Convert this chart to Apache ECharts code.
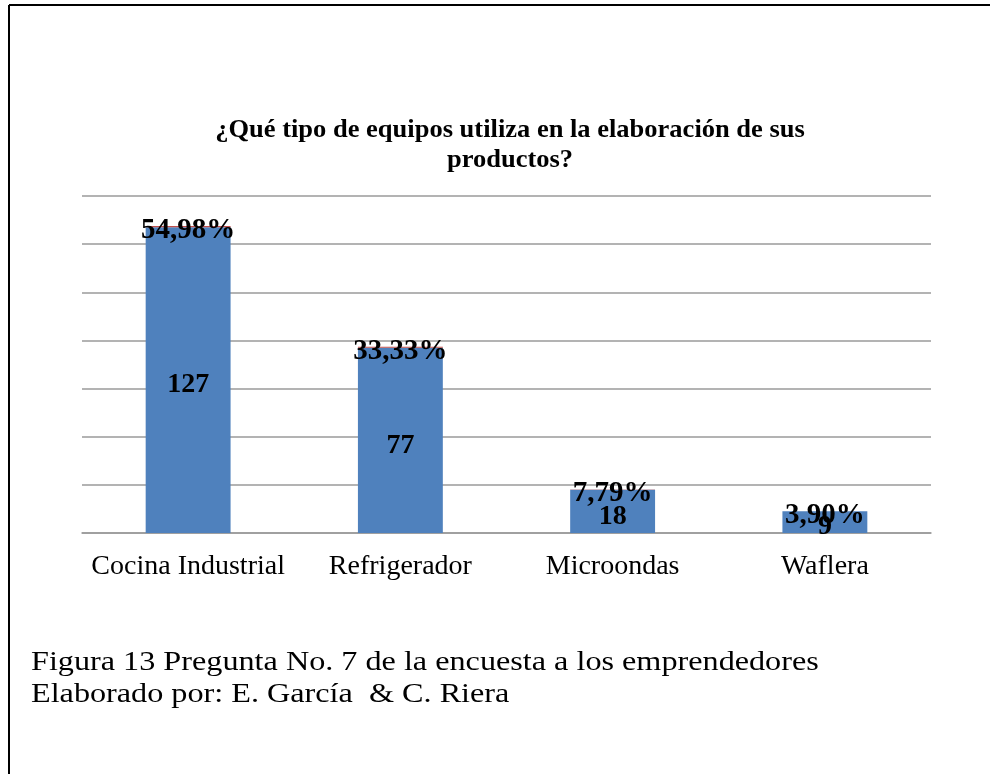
<!DOCTYPE html>
<html>
<head>
<meta charset="utf-8">
<script src="https://cdn.jsdelivr.net/npm/echarts@6/dist/echarts.min.js"></script>
<style>
html,body{margin:0;padding:0;background:#fff;}
#chart{width:990px;height:774px;}
</style>
</head>
<body>
<div id="chart"></div>
<script>
const categories = ['Cocina Industrial', 'Refrigerador', 'Microondas', 'Waflera'];
const counts = [127, 77, 18, 9];
const percentages = [54.98, 33.33, 7.79, 3.90];
const titleText = '¿Qué tipo de equipos utiliza en la elaboración de sus\nproductos?';
const captionLines = ['Figura 13 Pregunta No. 7 de la encuesta a los emprendedores', 'Elaborado por: E. García  & C. Riera'];

const serif = '"Liberation Serif", "Times New Roman", serif';
const chart = echarts.init(document.getElementById('chart'));
chart.setOption({
  animation: false,
  grid: { left: 82, right: 59, top: 196, bottom: 241 },
  xAxis: {
    type: 'category', data: categories,
    axisLine: { lineStyle: { color: '#9a9a9a', width: 1.5 } },
    axisTick: { show: false },
    axisLabel: { interval: 0, fontFamily: serif, fontSize: 28, color: '#000', margin: 20 }
  },
  yAxis: {
    type: 'value', min: 0, max: 140, interval: 20,
    axisLabel: { show: false }, axisLine: { show: false }, axisTick: { show: false },
    splitLine: { lineStyle: { color: '#9a9a9a', width: 1.5 } }
  },
  series: [
    {
      type: 'bar', stack: 'a', data: counts, barWidth: '40%',
      itemStyle: { color: '#4F81BD' },
      label: { show: true, position: 'inside', offset: [0, 5], fontFamily: serif, fontWeight: 'bold', fontSize: 28, color: '#000' }
    },
    {
      type: 'bar', stack: 'a', data: percentages.map(p => p / 100), barWidth: '40%',
      itemStyle: { color: '#C0504D' },
      label: {
        show: true, position: 'inside', offset: [0, 4], fontFamily: serif, fontWeight: 'bold', fontSize: 29, color: '#000',
        formatter: p => (p.value * 100).toFixed(2).replace('.', ',') + '%'
      }
    }
  ],
  graphic: [
    { type: 'line', shape: { x1: 9, y1: 5, x2: 990, y2: 5 }, style: { stroke: '#000', lineWidth: 2 } },
    { type: 'line', shape: { x1: 9, y1: 5, x2: 9, y2: 774 }, style: { stroke: '#000', lineWidth: 2 } },
    { type: 'text', x: 510, y: 146, scaleX: 1.06,
      style: { x: 0, y: 0, text: titleText, align: 'center', verticalAlign: 'middle', lineHeight: 30,
        font: 'bold 25px ' + serif, fill: '#000' } },
    { type: 'text', x: 31, y: 663, scaleX: 1.15,
      style: { x: 0, y: 0, text: captionLines[0], verticalAlign: 'middle', font: '28px ' + serif, fill: '#000' } },
    { type: 'text', x: 31, y: 695, scaleX: 1.15,
      style: { x: 0, y: 0, text: captionLines[1], verticalAlign: 'middle', font: '28px ' + serif, fill: '#000' } }
  ]
});
</script>
</body>
</html>
